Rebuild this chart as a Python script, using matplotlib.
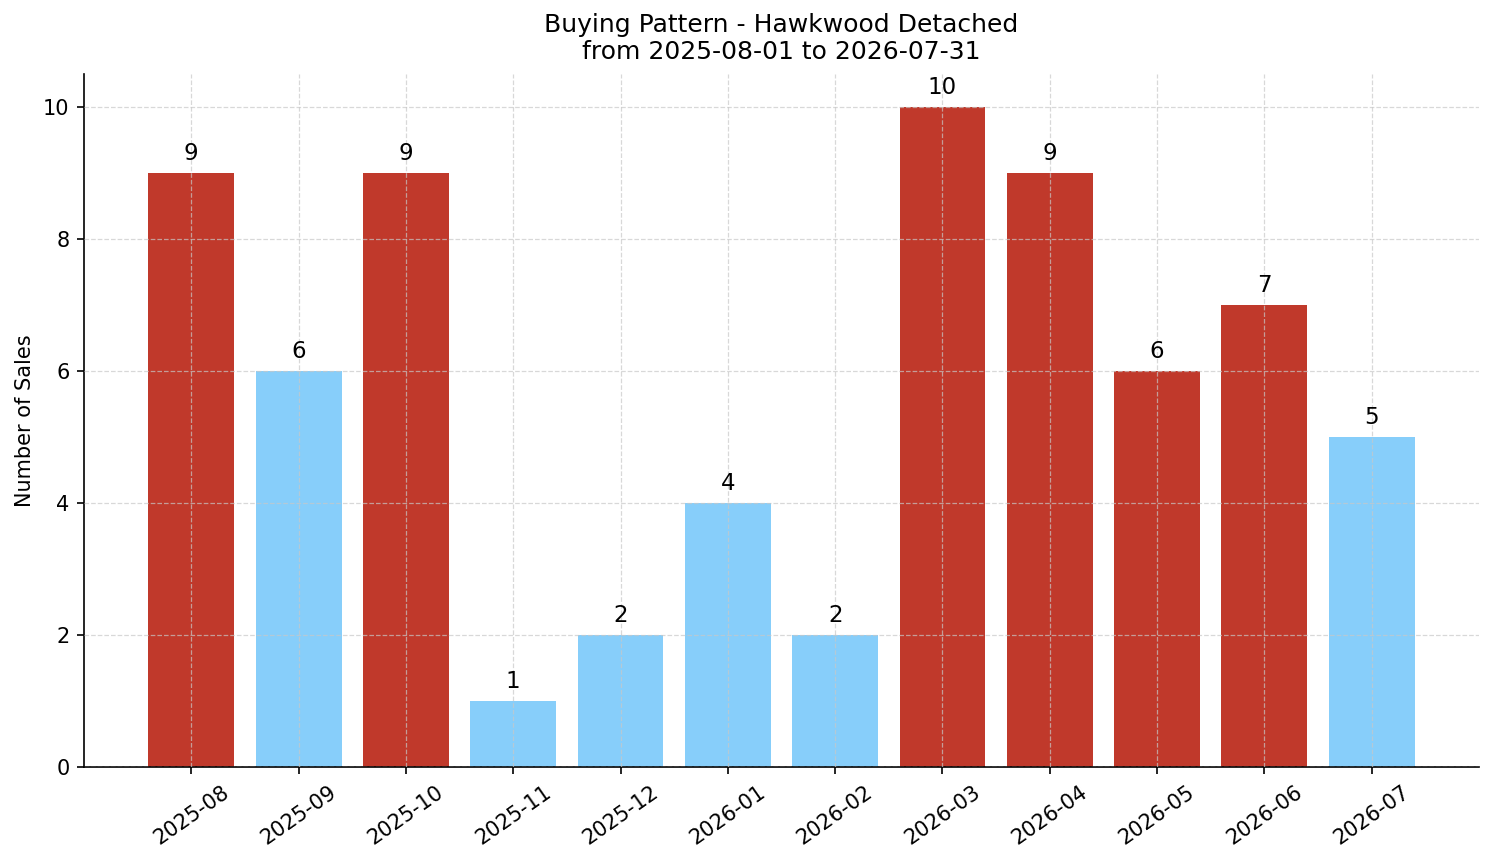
import matplotlib
matplotlib.use("Agg")
import matplotlib.pyplot as plt

months = ["2025-08", "2025-09", "2025-10", "2025-11", "2025-12", "2026-01",
          "2026-02", "2026-03", "2026-04", "2026-05", "2026-06", "2026-07"]
sales = [9, 6, 9, 1, 2, 4, 2, 10, 9, 6, 7, 5]
highlight = [True, False, True, False, False, False, False, True, True, True, True, False]

RED = "#c0392b"
BLUE = "#87cefa"
colors = [RED if h else BLUE for h in highlight]

fig = plt.figure(figsize=(1494/150, 863/150), dpi=150)
ax = fig.add_axes([84/1494, 1-767/863, (1479-84)/1494, (767-74)/863])

x = list(range(len(months)))
bars = ax.bar(x, sales, width=0.8, color=colors, zorder=2)
for xi, v in zip(x, sales):
    ax.text(xi, v + 0.12, str(v), ha="center", va="bottom", fontsize=11)

ax.set_xticks(x)
ax.set_xticklabels(months, rotation=35, fontsize=10)
ax.tick_params(axis="y", labelsize=10)
ax.set_xlim(-1, 12)
ax.set_ylim(0, 10.5)
ax.set_ylabel("Number of Sales", fontsize=10)
ax.set_title("Buying Pattern - Hawkwood Detached\nfrom 2025-08-01 to 2026-07-31", fontsize=12, pad=7)
ax.grid(True, linestyle="--", linewidth=0.6, color="#c8c8c8", alpha=0.7, zorder=3)
ax.set_axisbelow(False)
ax.spines["top"].set_visible(False)
ax.spines["right"].set_visible(False)

fig.savefig("out.png", dpi=150)
